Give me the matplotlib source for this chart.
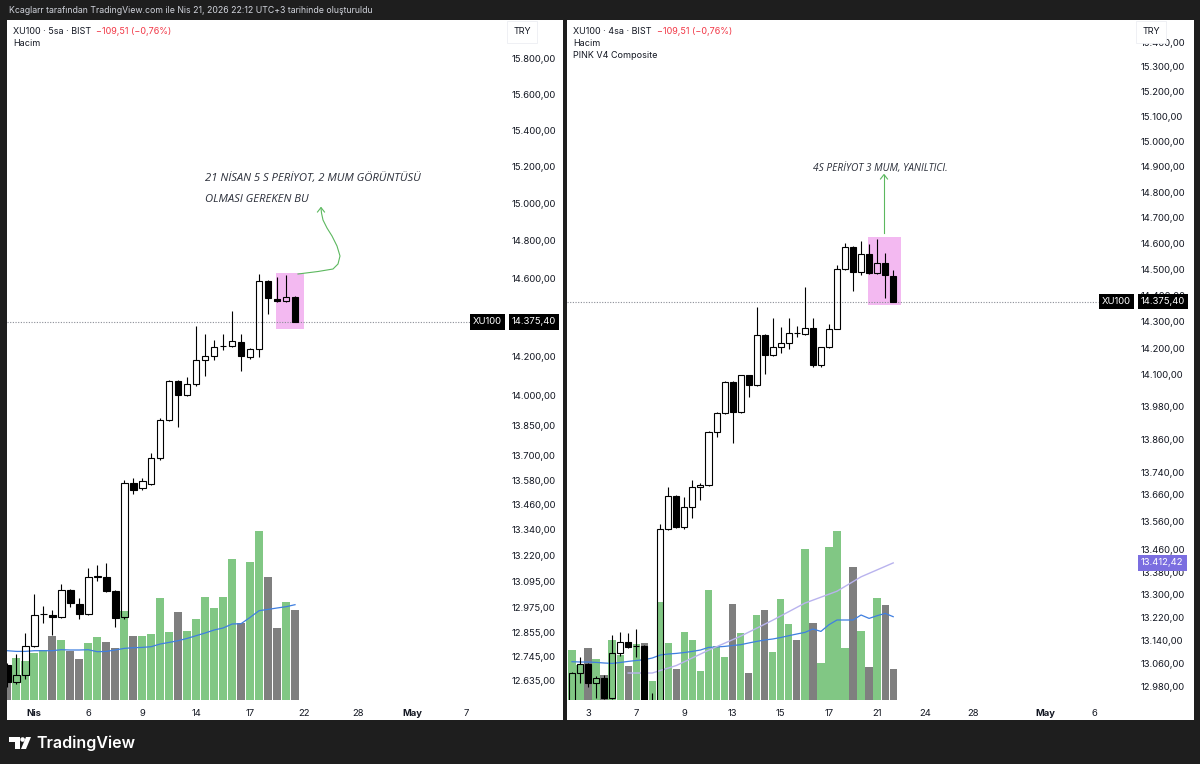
import matplotlib
matplotlib.use('Agg')
import matplotlib.pyplot as plt
from matplotlib.patches import Rectangle, Polygon, Circle
from matplotlib.ticker import NullLocator
import matplotlib.transforms as mtransforms

plt.rcParams['font.family'] = ['Inter', 'DejaVu Sans']

W, H = 1200, 764

# ---------------- LEFT CHART (XU100, 5h) ----------------
L_idx = list(range(-3, 30))
L_open = [12707, 12631, 12662, 12794, 12942, 12938, 12929, 13055, 12989, 12942, 13116, 13116, 13050,
          12929, 13566, 13540, 13560, 13689, 13877, 14073, 14003, 14058, 14180, 14200, 14250, 14251,
          14272, 14195, 14236, 14588, 14494, 14484, 14505]
L_high = [12715, 12758, 12854, 13036, 12980, 12961, 13083, 13060, 13017, 13158, 13172, 13182, 13055,
          13580, 13590, 13590, 13713, 13885, 14080, 14078, 14093, 14354, 14313, 14282, 14313, 14432,
          14313, 14240, 14625, 14595, 14609, 14620, 14510]
L_low = [12610, 12620, 12644, 12790, 12901, 12845, 12925, 12975, 12919, 12940, 13097, 13045, 12882,
         12920, 13515, 13535, 13555, 13680, 13870, 13842, 14000, 14050, 14098, 14180, 14231, 14248,
         14124, 14185, 14195, 14416, 14478, 14480, 14375]
L_close = [12631, 12662, 12794, 12938, 12945, 12929, 13055, 12994, 12942, 13116, 13120, 13050, 12924,
           13566, 13532, 13575, 13689, 13877, 14073, 14003, 14058, 14180, 14200, 14246, 14253, 14277,
           14200, 14236, 14588, 14499, 14484, 14505, 14375.4]
L_vol = [35, 42, 39, 47, 50, 64, 60, 49, 41, 57, 63, 58, 52, 89, 64, 64, 66, 102, 68, 88, 69, 81,
         103, 92, 103, 141, 77, 138, 169, 123, 72, 98, 90]
L_vol_ma = [49.3, 48.6, 48.6, 49.3, 49.3, 49.3, 50.3, 50, 50, 50.3, 48.3, 48.6, 50, 51.6, 52.3, 52.6,
            53.3, 56, 57.6, 59.3, 61.6, 64.3, 67, 70, 72, 76, 76.3, 82.6, 89.3, 90.6, 92, 93.3, 95.3]
L_ticks = [15800, 15600, 15400, 15200, 15000, 14800, 14600, 14400, 14200, 14000, 13850, 13700,
           13580, 13460, 13340, 13220, 13095, 12975, 12855, 12745, 12635]
L_xt_pos = [0, 6, 12, 18, 24, 30, 36, 42, 48]
L_xt_lab = ['Nis', '6', '9', '14', '17', '22', '28', 'May', '7']

# ---------------- RIGHT CHART (XU100, 4h) ----------------
R_idx = list(range(0, 41))
R_open = [12900, 13025, 13057, 12991, 13008, 12939, 13095, 13133, 13119, 13119, 12860, 12890, 13533,
          13652, 13541, 13612, 13685, 13692, 13886, 13957, 14072, 13960, 14098, 14061, 14249, 14173,
          14203, 14218, 14258, 14253, 14275, 14136, 14203, 14272, 14501, 14586, 14489, 14559, 14485,
          14524, 14474]
R_high = [13030, 13081, 13060, 13015, 13018, 13158, 13168, 13164, 13180, 13122, 12957, 13551, 13685,
          13655, 13649, 13710, 13700, 13890, 13960, 14075, 14075, 14100, 14100, 14355, 14252, 14313,
          14279, 14313, 14283, 14432, 14313, 14205, 14291, 14516, 14601, 14590, 14609, 14597, 14617,
          14563, 14497]
R_low = [12880, 12991, 12977, 12939, 12935, 12935, 13084, 13112, 13081, 12830, 12840, 12880, 13530,
         13538, 13533, 13573, 13638, 13688, 13868, 13955, 13846, 13958, 14016, 14058, 14102, 14170,
         14181, 14196, 14241, 14250, 14128, 14128, 14200, 14270, 14498, 14416, 14478, 14482, 14482,
         14390, 14375]
R_close = [13025, 13057, 12991, 13008, 12939, 13095, 13133, 13116, 13121, 12850, 12890, 13533, 13652,
           13541, 13612, 13685, 13692, 13886, 13957, 14072, 13960, 14098, 14061, 14249, 14173, 14203,
           14218, 14256, 14256, 14275, 14136, 14203, 14272, 14501, 14586, 14489, 14559, 14485, 14524,
           14478, 14375.4]
R_vol = [50.3, 35, 51.6, 41, 25, 60, 45, 33.6, 56, 57, 19.3, 97.6, 57, 30.6, 67.6, 60, 29.3, 110,
         53.6, 43.3, 96, 66.6, 27.3, 85.3, 90.3, 47.6, 101, 76, 60.3, 151, 77, 36.6, 153.3, 169.3,
         51.6, 132.6, 69.3, 33.3, 102, 95.3, 31]
R_vol_ma = [38.3, 38, 38, 37.6, 37, 36.6, 37.5, 38.6, 39.5, 40.3, 42, 45, 46, 46.6, 47.5, 48.6, 50,
            52.6, 53, 53.6, 54.5, 55.3, 57, 58.6, 60, 61, 62.5, 64.3, 66, 67.6, 71, 68.6, 75.3, 80,
            80, 80, 85, 81.6, 84.3, 86.6, 83.3]
R_pink_x = [7, 10, 13, 17, 21, 25, 29, 33, 36, 40]
R_pink_val = [13026, 13026, 13052, 13105, 13154, 13210, 13270, 13312, 13363, 13412.42]
R_ticks = [15400, 15300, 15200, 15100, 15000, 14900, 14800, 14700, 14600, 14500, 14400, 14300, 14200,
           14100, 13980, 13860, 13740, 13660, 13560, 13460, 13380, 13300, 13220, 13140, 13060, 12980]
R_xt_pos = [2, 8, 14, 20, 26, 32, 38, 44, 50, 59, 65]
R_xt_lab = ['3', '7', '9', '13', '15', '17', '21', '24', '28', 'May', '6']

LAST = 14375.40

UP_VOL = '#81c784'
DN_VOL = '#7f7f7f'
MA_COL = '#3f7fe0'
PINK = '#f3b9f1'
ARROW = '#5cb85f'
FS = 6.8


def fmt(v):
    s = f"{v:,.2f}"
    return s.replace(',', 'X').replace('.', ',').replace('X', '.')


def frect(x0, y0, x1, y1):
    return [x0 / W, 1 - y1 / H, (x1 - x0) / W, (y1 - y0) / H]


fig = plt.figure(figsize=(12, 7.64), dpi=100)
fig.patch.set_facecolor('#1e1e1e')

bg = fig.add_axes([0, 0, 1, 1], zorder=0)
bg.set_xlim(0, W)
bg.set_ylim(H, 0)
bg.axis('off')
bg.add_patch(Rectangle((7, 20), 556, 700, facecolor='white', edgecolor='none'))
bg.add_patch(Rectangle((567, 20), 627, 700, facecolor='white', edgecolor='none'))

bg.text(9, 10.5, 'Kcaglarr tarafından TradingView.com ile Nis 21, 2026 22:12 UTC+3 tarihinde oluşturuldu',
        color='#d1d4dc', fontsize=6.3, va='center', ha='left')

Lx0, Lx1 = 7, 506
Rx0, Rx1 = 567, 1135
L_xpix0, L_step = 34.3, 8.99
R_xpix0, R_step = 572.0, 8.03


def setup(px0, px1, x_pix0, x_step, ylim, ticks, xt_pos, xt_lab):
    rect = frect(px0, 21, px1, 700)
    xlim = ((px0 - x_pix0) / x_step, (px1 - x_pix0) / x_step)
    vax = fig.add_axes(rect, zorder=1)
    vax.set_facecolor('none')
    pax = fig.add_axes(rect, zorder=2)
    pax.set_facecolor('none')
    for a in (vax, pax):
        a.set_xlim(*xlim)
        for s in a.spines.values():
            s.set_visible(False)
    vax.set_ylim(0, 679)
    vax.set_yticks([])
    vax.set_xticks([])
    pax.set_yscale('log')
    pax.set_ylim(*ylim)
    pax.yaxis.set_minor_locator(NullLocator())
    pax.set_yticks(ticks)
    pax.set_yticklabels([fmt(t) for t in ticks])
    pax.yaxis.tick_right()
    pax.tick_params(axis='y', length=0, pad=4, labelsize=FS, labelcolor='#131722')
    pax.set_xticks(xt_pos)
    pax.set_xticklabels(xt_lab)
    pax.tick_params(axis='x', length=0, pad=6.5, labelsize=FS, labelcolor='#131722')
    for t in pax.get_xticklabels():
        if t.get_text() in ('Nis', 'May'):
            t.set_fontweight('bold')
    return vax, pax


def draw_candles(vax, pax, idx, o, h, l, c, vol, vma, body_w, vol_w):
    cols = [UP_VOL if cc >= oo else DN_VOL for oo, cc in zip(o, c)]
    vax.bar(idx, vol, width=vol_w, color=cols, linewidth=0, zorder=1)
    vax.plot(idx, vma, color=MA_COL, lw=0.9, zorder=2)
    for x, oo, hh, ll, cc in zip(idx, o, h, l, c):
        top, bot = max(oo, cc), min(oo, cc)
        up = cc >= oo
        pax.bar(x, top - bot, bottom=bot, width=body_w,
                facecolor='none' if up else 'black', edgecolor='black', linewidth=0.8, zorder=4)
        pax.vlines(x, top, hh, color='black', lw=0.8, zorder=4)
        pax.vlines(x, ll, bot, color='black', lw=0.8, zorder=4)


def price_labels(pax, px0, px1, line_end_px, extra=None):
    axw = px1 - px0
    tr = mtransforms.blended_transform_factory(pax.transAxes, pax.transData)
    pax.axhline(LAST, xmin=0, xmax=(line_end_px - px0) / axw, color='#8a8d96', lw=0.8,
                ls=(0, (1, 1.4)), zorder=3)
    box = dict(boxstyle='square,pad=0.34', fc='#000000', ec='none')
    pax.text(1 + 6 / axw, LAST, fmt(LAST), transform=tr, ha='left', va='center', color='white',
             fontsize=FS, zorder=10, clip_on=False, bbox=box)
    pax.text(1 - 4 / axw, LAST, 'XU100', transform=tr, ha='right', va='center', color='white',
             fontsize=FS, zorder=10, clip_on=False, bbox=box)
    if extra is not None:
        val, col = extra
        pax.text(1 + 6 / axw, val, fmt(val), transform=tr, ha='left', va='center', color='white',
                 fontsize=FS, zorder=10, clip_on=False,
                 bbox=dict(boxstyle='square,pad=0.34', fc=col, ec='none'))


# LEFT
L_ylim = (12549, 16017)
vaxL, paxL = setup(Lx0, Lx1, L_xpix0, L_step, L_ylim, L_ticks, L_xt_pos, L_xt_lab)
L_box = (26.85, 30.0, 14339, 14630)
paxL.add_patch(Rectangle((L_box[0], L_box[2]), L_box[1] - L_box[0], L_box[3] - L_box[2],
                         facecolor=PINK, edgecolor='none', zorder=1))
draw_candles(vaxL, paxL, L_idx, L_open, L_high, L_low, L_close, L_vol, L_vol_ma, 0.74, 0.89)
price_labels(paxL, Lx0, Lx1, 472)

# RIGHT
R_ylim = (12933, 15488)
vaxR, paxR = setup(Rx0, Rx1, R_xpix0, R_step, R_ylim, R_ticks, R_xt_pos, R_xt_lab)
R_box = (36.85, 40.95, 14363, 14625)
paxR.add_patch(Rectangle((R_box[0], R_box[2]), R_box[1] - R_box[0], R_box[3] - R_box[2],
                         facecolor=PINK, edgecolor='none', zorder=1))
draw_candles(vaxR, paxR, R_idx, R_open, R_high, R_low, R_close, R_vol, R_vol_ma, 0.75, 0.91)
paxR.plot(R_pink_x, R_pink_val, color='#b9b3ee', lw=1.0, zorder=3)
price_labels(paxR, Rx0, Rx1, 1098, extra=(R_pink_val[-1], '#7b6ee0'))

# ---------------- overlay: legends, TRY, annotations, logo ----------------
top = fig.add_axes([0, 0, 1, 1], zorder=10)
top.set_xlim(0, W)
top.set_ylim(H, 0)
top.axis('off')
top.set_facecolor('none')

for x0, tf in ((13, '5sa'), (573, '4sa')):
    t1 = top.text(x0, 31, f'XU100 · {tf} · BIST', fontsize=6.5, color='#131722', va='center', ha='left')
    top.annotate('  −109,51 (−0,76%)', xycoords=t1, xy=(1, 0.5), va='center', ha='left',
                 fontsize=6.5, color='#f23645')
    top.text(x0, 44, 'Hacim', fontsize=6.5, color='#131722', va='center', ha='left')
top.text(573, 56, 'PINK V4 Composite', fontsize=6.5, color='#131722', va='center', ha='left')

for xc in (522, 1151):
    top.text(xc, 32, 'TRY', fontsize=6.5, color='#131722', va='center', ha='center',
             bbox=dict(boxstyle='square,pad=0.7', fc='white', ec='#eceef2', lw=0.6))

ann_family = ['Open Sans', 'DejaVu Sans']
top.text(205, 179, '21 NİSAN 5 S PERİYOT, 2 MUM GÖRÜNTÜSÜ', va='center', ha='left',
         family=ann_family, style='italic', fontsize=8.1, color='#2a2e39')
top.text(205, 200, 'OLMASI GEREKEN BU', va='center', ha='left',
         family=ann_family, style='italic', fontsize=8.1, color='#2a2e39')
top.text(813, 169, '4S PERİYOT 3 MUM, YANILTICI.', va='center', ha='left',
         family=ann_family, style='italic', fontsize=7.3, color='#2a2e39')

# curved arrow (left)
curve_x = [298, 318, 333, 338, 340, 337, 332, 327, 323, 321.5, 321]
curve_y = [274, 271.5, 269, 264, 256, 246, 236, 228, 220, 213, 208]
top.plot(curve_x, curve_y, color=ARROW, lw=0.8)
top.plot([317.5, 321, 324.5], [212, 207.5, 212], color=ARROW, lw=0.8)
# straight arrow (right)
top.plot([884, 884], [233, 175], color=ARROW, lw=0.8)
top.plot([880.5, 884, 887.5], [179, 174.5, 179], color=ARROW, lw=0.8)

# TradingView logo
top.add_patch(Polygon([(9, 737), (20, 737), (20, 749), (15, 749), (15, 741.5), (9, 741.5)],
                      closed=True, fc='white', ec='none'))
top.add_patch(Circle((22.6, 739.5), 2.3, fc='white', ec='none'))
top.add_patch(Polygon([(26, 737), (31, 737), (26, 749), (21, 749)], closed=True, fc='white', ec='none'))
top.text(36, 743, 'TradingView', fontsize=11.5, color='white', fontweight='semibold', va='center',
         ha='left')

fig.savefig('out.png', dpi=100, facecolor=fig.get_facecolor())
